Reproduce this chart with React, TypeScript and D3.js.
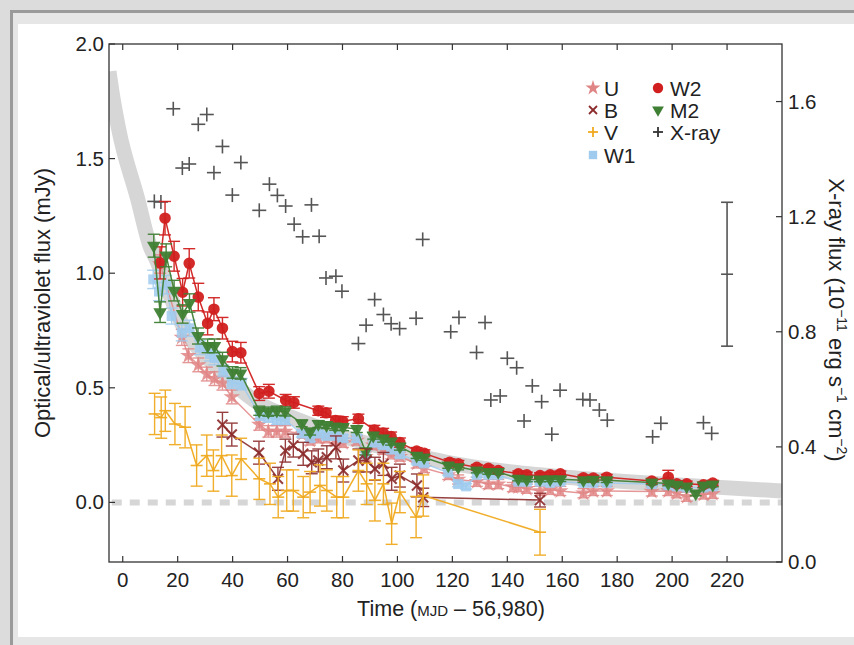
import React from 'react';
import * as d3 from 'd3';

const W = 854;
const H = 645;

const xTicks = [0, 20, 40, 60, 80, 100, 120, 140, 160, 180, 200, 220];
const yLeftTicks = [0, 0.5, 1.0, 1.5, 2.0];
const yRightTicks = [0.0, 0.4, 0.8, 1.2, 1.6];

// Model band (centre line)
const bandT = [-5, -3.9, -1.5, 5.3, 10.2, 11.8, 21.5, 36, 48.5, 64.5, 81.5, 100, 118, 140, 161.6, 193, 240];
const bandV = [1.88, 1.79, 1.63, 1.33, 1.11, 1.07, 0.78, 0.57, 0.44, 0.357, 0.284, 0.225, 0.175, 0.135, 0.11, 0.083, 0.05];

// X-ray
const tX = [11.5, 13.9, 18.4, 21.7, 24.2, 27.5, 30.6, 33.2, 36.3, 39.9, 43.0, 49.7, 53.4, 56.3, 59.3, 62.4, 65.5, 68.7, 71.5, 74.0, 77.6, 79.8, 85.8, 88.6, 91.7, 94.9, 97.7, 100.8, 106.8, 109.2, 119.4, 122.4, 128.8, 131.9, 134.0, 137.4, 140.0, 143.4, 146.1, 149.1, 152.5, 156.2, 159.2, 167.5, 170.1, 173.5, 176.4, 192.9, 195.9, 211.4, 214.4];
const vX = [1.253, 1.251, 1.575, 1.369, 1.383, 1.521, 1.555, 1.353, 1.444, 1.275, 1.388, 1.222, 1.313, 1.274, 1.237, 1.174, 1.130, 1.241, 1.132, 0.987, 0.993, 0.941, 0.759, 0.823, 0.912, 0.860, 0.828, 0.811, 0.847, 1.121, 0.800, 0.850, 0.728, 0.832, 0.563, 0.577, 0.708, 0.675, 0.490, 0.612, 0.557, 0.444, 0.597, 0.565, 0.563, 0.528, 0.493, 0.435, 0.482, 0.484, 0.447];
const xErrT = [220];
const xErrV = [1.0];
const xErrE = [0.25];

// W2
const tW2 = [13.6, 15.4, 18.7, 21.8, 24.2, 27.5, 30.9, 33.2, 36.3, 39.9, 43.0, 49.7, 53.2, 59.3, 62.3, 71.2, 74.0, 77.5, 80.1, 85.8, 91.6, 94.8, 97.7, 100.9, 107.0, 109.8, 119.0, 122.2, 128.9, 133.1, 136.7, 144.0, 147.1, 151.9, 155.6, 159.3, 167.7, 171.3, 176.2, 192.6, 198.6, 201.7, 205.3, 211.4, 214.8];
const vW2 = [1.045, 1.240, 1.074, 0.917, 1.043, 0.896, 0.781, 0.843, 0.760, 0.658, 0.653, 0.475, 0.485, 0.446, 0.436, 0.400, 0.391, 0.357, 0.354, 0.365, 0.316, 0.303, 0.287, 0.261, 0.224, 0.214, 0.175, 0.168, 0.153, 0.149, 0.139, 0.125, 0.120, 0.117, 0.120, 0.125, 0.107, 0.106, 0.110, 0.093, 0.110, 0.081, 0.081, 0.077, 0.084];
const eW2 = [0.07, 0.073, 0.065, 0.06, 0.064, 0.06, 0.05, 0.05, 0.047, 0.045, 0.045, 0.03, 0.03, 0.025, 0.025, 0.02, 0.02, 0.02, 0.02, 0.02, 0.02, 0.02, 0.02, 0.02, 0.015, 0.015, 0.015, 0.015, 0.012, 0.012, 0.012, 0.012, 0.012, 0.012, 0.012, 0.012, 0.012, 0.012, 0.012, 0.012, 0.03, 0.012, 0.012, 0.012, 0.012];

// M2
const tM2 = [11.3, 13.6, 15.8, 18.7, 21.8, 24.3, 27.4, 30.9, 33.4, 36.3, 40.0, 42.9, 49.7, 53.0, 56.1, 59.1, 65.2, 68.2, 71.2, 74.2, 77.3, 80.2, 85.2, 88.4, 91.2, 94.8, 97.7, 100.9, 107.0, 109.7, 118.5, 122.1, 128.9, 133.1, 136.7, 144.0, 147.1, 151.9, 155.6, 159.3, 167.7, 171.3, 176.2, 192.6, 198.6, 201.7, 205.3, 208.6, 211.4, 214.8];
const vM2 = [1.120, 0.830, 1.078, 0.924, 0.822, 0.870, 0.726, 0.683, 0.683, 0.625, 0.567, 0.563, 0.400, 0.396, 0.400, 0.397, 0.345, 0.309, 0.342, 0.337, 0.330, 0.328, 0.320, 0.222, 0.291, 0.278, 0.265, 0.243, 0.204, 0.196, 0.161, 0.154, 0.139, 0.133, 0.133, 0.104, 0.100, 0.100, 0.101, 0.101, 0.097, 0.099, 0.097, 0.087, 0.083, 0.077, 0.070, 0.039, 0.074, 0.078];
const eM2 = [0.05, 0.045, 0.05, 0.045, 0.04, 0.04, 0.035, 0.03, 0.03, 0.03, 0.025, 0.025, 0.02, 0.02, 0.02, 0.02, 0.015, 0.015, 0.015, 0.015, 0.015, 0.015, 0.015, 0.015, 0.015, 0.015, 0.015, 0.015, 0.012, 0.012, 0.012, 0.012, 0.01, 0.01, 0.01, 0.01, 0.01, 0.01, 0.01, 0.01, 0.01, 0.01, 0.01, 0.01, 0.01, 0.01, 0.01, 0.01, 0.01, 0.01];

// W1
const tW1 = [11.1, 13.2, 15.8, 17.8, 21.5, 24.3, 28.1, 31.8, 33.4, 36.6, 39.7, 43.3, 50.0, 53.0, 56.1, 59.1, 65.2, 68.2, 71.2, 74.2, 77.3, 80.2, 85.2, 88.4, 91.2, 94.8, 97.7, 100.9, 107.0, 109.7, 118.5, 122.1, 125.0, 128.9, 133.1, 136.7, 144.0, 147.1, 151.9, 155.6, 159.3, 167.7, 171.3, 176.2, 192.6, 198.6, 201.7, 205.3, 211.4, 214.8];
const vW1 = [0.973, 0.92, 0.95, 0.813, 0.74, 0.76, 0.675, 0.647, 0.63, 0.574, 0.523, 0.516, 0.378, 0.37, 0.36, 0.36, 0.30, 0.28, 0.30, 0.29, 0.29, 0.28, 0.28, 0.21, 0.26, 0.25, 0.23, 0.21, 0.18, 0.17, 0.13, 0.08, 0.07, 0.12, 0.12, 0.12, 0.09, 0.09, 0.09, 0.085, 0.09, 0.085, 0.085, 0.085, 0.08, 0.075, 0.07, 0.065, 0.065, 0.07];
const eW1 = [0.04, 0.04, 0.04, 0.035, 0.035, 0.035, 0.03, 0.03, 0.03, 0.025, 0.025, 0.025, 0.02, 0.02, 0.02, 0.02, 0.015, 0.015, 0.015, 0.015, 0.015, 0.015, 0.015, 0.015, 0.015, 0.015, 0.015, 0.015, 0.012, 0.012, 0.012, 0.012, 0.012, 0.01, 0.01, 0.01, 0.01, 0.01, 0.01, 0.01, 0.01, 0.01, 0.01, 0.01, 0.01, 0.01, 0.01, 0.01, 0.01, 0.01];

// U
const tU = [13.6, 21.5, 23.9, 27.5, 30.6, 33.4, 36.3, 39.7, 49.7, 53.0, 56.1, 59.1, 65.7, 68.2, 71.2, 74.2, 77.3, 80.2, 85.2, 88.4, 91.2, 94.8, 97.7, 100.9, 107.0, 109.7, 118.5, 122.1, 128.9, 133.1, 136.7, 142.0, 144.0, 147.1, 151.9, 155.6, 159.3, 167.7, 171.3, 176.2, 192.6, 198.6, 201.7, 205.3, 211.4, 214.8];
const vU = [1.04, 0.72, 0.64, 0.60, 0.56, 0.54, 0.52, 0.46, 0.34, 0.31, 0.31, 0.31, 0.30, 0.27, 0.28, 0.28, 0.27, 0.26, 0.27, 0.20, 0.25, 0.23, 0.21, 0.20, 0.17, 0.15, 0.12, 0.10, 0.09, 0.08, 0.08, 0.067, 0.067, 0.06, 0.05, 0.055, 0.05, 0.04, 0.05, 0.05, 0.048, 0.05, 0.04, 0.025, 0.035, 0.038];
const eU = [0.04, 0.035, 0.03, 0.03, 0.03, 0.03, 0.03, 0.03, 0.025, 0.025, 0.025, 0.025, 0.02, 0.02, 0.02, 0.02, 0.02, 0.02, 0.02, 0.02, 0.02, 0.02, 0.02, 0.02, 0.02, 0.02, 0.02, 0.02, 0.02, 0.02, 0.02, 0.02, 0.02, 0.02, 0.02, 0.02, 0.02, 0.02, 0.02, 0.02, 0.02, 0.02, 0.02, 0.02, 0.02, 0.02];

// B
const tB = [36.3, 39.7, 49.6, 56.5, 59.2, 62.1, 65.7, 68.8, 71.2, 74.3, 77.6, 80.3, 85.8, 88.8, 91.8, 94.9, 97.9, 100.9, 107.1, 109.4, 151.9];
const vB = [0.339, 0.296, 0.217, 0.103, 0.226, 0.248, 0.212, 0.175, 0.183, 0.197, 0.24, 0.139, 0.183, 0.183, 0.147, 0.168, 0.103, 0.117, 0.074, 0.022, 0.01];
const eB = [0.054, 0.05, 0.05, 0.05, 0.05, 0.05, 0.05, 0.05, 0.05, 0.05, 0.05, 0.05, 0.05, 0.05, 0.05, 0.05, 0.05, 0.05, 0.05, 0.04, 0.03];

// V
const tV = [11.6, 14.0, 15.5, 19.0, 22.7, 26.9, 30.6, 33.0, 36.0, 39.7, 43.1, 49.7, 53.6, 56.6, 59.7, 62.1, 65.7, 68.2, 71.8, 74.3, 77.9, 80.3, 85.8, 88.8, 91.8, 94.9, 97.9, 100.9, 106.8, 109.4, 151.9];
const vV = [0.386, 0.37, 0.40, 0.342, 0.328, 0.161, 0.204, 0.139, 0.204, 0.117, 0.19, 0.103, 0.081, 0.023, 0.052, 0.052, 0.023, 0.045, 0.074, 0.052, 0.023, 0.023, 0.139, 0.081, 0.009, 0.081, -0.093, 0.045, -0.064, 0.03, -0.13];
const eV = [0.09, 0.09, 0.09, 0.09, 0.09, 0.09, 0.09, 0.09, 0.09, 0.09, 0.09, 0.09, 0.09, 0.09, 0.09, 0.09, 0.09, 0.09, 0.09, 0.09, 0.09, 0.09, 0.09, 0.09, 0.09, 0.09, 0.09, 0.09, 0.09, 0.09, 0.1];

const FONT = "'Liberation Sans', Arial, Helvetica, sans-serif";

const C_W2 = '#d11f1f';
const C_M2 = '#3f7f34';
const C_W1 = '#9fcbee';
const C_U = '#e08585';
const C_B = '#8c2b2b';
const C_V = '#f0aa20';
const C_X = '#555555';

export default function App() {
  const x = d3.scaleLinear().domain([-5, 240]).range([109, 782]);
  const yL = d3.scaleLinear().domain([-0.26, 2.0]).range([562, 44]);
  const yR = d3.scaleLinear().domain([0, 1.8]).range([562, 44]);

  const lineGen = d3.line<[number, number]>().x(d => x(d[0])).y(d => yL(d[1]));
  const bandLine = d3.line<[number, number]>().x(d => x(d[0])).y(d => yL(d[1])).curve(d3.curveMonotoneX);

  const starPath = d3.symbol().type(d3.symbolStar).size(85)() as string;
  const triPath = d3.symbol().type(d3.symbolTriangle).size(80)() as string;
  const sqPath = d3.symbol().type(d3.symbolSquare).size(100)() as string;
  const circPath = d3.symbol().type(d3.symbolCircle).size(105)() as string;
  const starLeg = d3.symbol().type(d3.symbolStar).size(70)() as string;
  const triLeg = d3.symbol().type(d3.symbolTriangle).size(60)() as string;
  const sqLeg = d3.symbol().type(d3.symbolSquare).size(70)() as string;
  const circLeg = d3.symbol().type(d3.symbolCircle).size(85)() as string;

  const zip = (t: number[], v: number[]) => t.map((ti, i) => [ti, v[i]] as [number, number]);

  const errBars = (t: number[], v: number[], e: number[], color: string, op = 1, cap = 6, sw = 1.4) =>
    t.map((ti, i) => {
      const cx = x(ti);
      const y1 = yL(v[i] + e[i]);
      const y2 = yL(v[i] - e[i]);
      return (
        <g key={'e' + i} stroke={color} strokeWidth={sw} opacity={op}>
          <line x1={cx} x2={cx} y1={y1} y2={y2} />
          <line x1={cx - cap} x2={cx + cap} y1={y1} y2={y1} />
          <line x1={cx - cap} x2={cx + cap} y1={y2} y2={y2} />
        </g>
      );
    });

  const markers = (t: number[], v: number[], path: string, color: string, op = 1, rot = 0) =>
    t.map((ti, i) => (
      <path key={'m' + i} d={path} fill={color} opacity={op}
        transform={`translate(${x(ti)},${yL(v[i])}) rotate(${rot})`} />
    ));

  const series = (t: number[], v: number[], e: number[], color: string, op: number) => (
    <>
      {errBars(t, v, e, color, op)}
      <path d={lineGen(zip(t, v)) || ''} fill="none" stroke={color} strokeWidth={1.5} opacity={op} />
    </>
  );

  const plotL = 109, plotR = 782, plotT = 44, plotB = 562;

  return (
    <svg width={W} height={H} viewBox={`0 0 ${W} ${H}`}
      style={{ position: 'fixed', left: 0, top: 0, display: 'block' }}
      fontFamily={FONT}>
      <defs>
        <clipPath id="plotclip">
          <rect x={plotL} y={plotT} width={plotR - plotL} height={plotB - plotT} />
        </clipPath>
      </defs>
      {/* background frame */}
      <rect x={0} y={0} width={W} height={H} fill="#dcdcdc" />
      <rect x={11.5} y={11.5} width={W} height={H} fill="#e6e6e6" stroke="#9a9a9a" strokeWidth={3} />
      <rect x={18} y={24} width={W - 18} height={613} fill="#ffffff" />

      {/* model band */}
      <g clipPath="url(#plotclip)">
        <path d={bandLine(zip(bandT, bandV)) || ''} fill="none" stroke="#d6d6d6" strokeWidth={15} />
        <line x1={x(-4)} x2={plotR} y1={yL(0)} y2={yL(0)} stroke="#d6d6d6" strokeWidth={6} strokeDasharray="10 8" />
      </g>

      {/* X-ray */}
      <g stroke={C_X} strokeWidth={1.6}>
        {tX.map((t, i) => {
          const cx = x(t), cy = yR(vX[i]);
          return (
            <g key={'x' + i}>
              <line x1={cx - 7} x2={cx + 7} y1={cy} y2={cy} />
              <line x1={cx} x2={cx} y1={cy - 7} y2={cy + 7} />
            </g>
          );
        })}
        {xErrT.map((t, i) => {
          const cx = x(t);
          const y1 = yR(xErrV[i] + xErrE[i]);
          const y2 = yR(xErrV[i] - xErrE[i]);
          const cy = yR(xErrV[i]);
          return (
            <g key={'xe' + i}>
              <line x1={cx} x2={cx} y1={y1} y2={y2} />
              <line x1={cx - 6} x2={cx + 6} y1={y1} y2={y1} />
              <line x1={cx - 6} x2={cx + 6} y1={y2} y2={y2} />
              <line x1={cx - 6} x2={cx + 6} y1={cy} y2={cy} />
            </g>
          );
        })}
      </g>

      {/* U */}
      {series(tU, vU, eU, C_U, 0.85)}
      {markers(tU, vU, starPath, C_U, 0.85)}
      {/* W1 */}
      {series(tW1, vW1, eW1, C_W1, 0.85)}
      {markers(tW1, vW1, sqPath, C_W1, 0.85)}
      {/* W2 */}
      {series(tW2, vW2, eW2, C_W2, 0.95)}
      {markers(tW2, vW2, circPath, C_W2, 0.95)}
      {/* M2 */}
      {series(tM2, vM2, eM2, C_M2, 0.95)}
      {markers(tM2, vM2, triPath, C_M2, 0.95, 180)}
      {/* B */}
      {series(tB, vB, eB, C_B, 0.9)}
      <g stroke={C_B} strokeWidth={2} opacity={0.9}>
        {tB.map((t, i) => {
          const cx = x(t), cy = yL(vB[i]);
          return (
            <g key={'bx' + i}>
              <line x1={cx - 5} x2={cx + 5} y1={cy - 5} y2={cy + 5} />
              <line x1={cx - 5} x2={cx + 5} y1={cy + 5} y2={cy - 5} />
            </g>
          );
        })}
      </g>
      {/* V */}
      {series(tV, vV, eV, C_V, 0.95)}
      <g stroke={C_V} strokeWidth={1.6} opacity={0.95}>
        {tV.map((t, i) => {
          const cx = x(t), cy = yL(vV[i]);
          return <line key={'vp' + i} x1={cx - 6} x2={cx + 6} y1={cy} y2={cy} />;
        })}
      </g>

      {/* axes frame */}
      <rect x={plotL} y={plotT} width={plotR - plotL} height={plotB - plotT} fill="none" stroke="#333" strokeWidth={1.3} />
      <g stroke="#333" strokeWidth={1.2}>
        {xTicks.map(t => (
          <g key={'xt' + t}>
            <line x1={x(t)} x2={x(t)} y1={plotB} y2={plotB - 6} />
            <line x1={x(t)} x2={x(t)} y1={plotT} y2={plotT + 6} />
          </g>
        ))}
        {yLeftTicks.map(v => (
          <line key={'yl' + v} x1={plotL} x2={plotL + 6} y1={yL(v)} y2={yL(v)} />
        ))}
        {yRightTicks.map(v => (
          <line key={'yr' + v} x1={plotR} x2={plotR - 6} y1={yR(v)} y2={yR(v)} />
        ))}
      </g>
      <g fontSize={20.5} fill="#222">
        {xTicks.map(t => (
          <text key={'xl' + t} x={x(t)} y={587} textAnchor="middle">{t}</text>
        ))}
        {yLeftTicks.map(v => (
          <text key={'yll' + v} x={104} y={yL(v) + 7} textAnchor="end">{v.toFixed(1)}</text>
        ))}
        {yRightTicks.map(v => (
          <text key={'yrl' + v} x={788} y={yR(v) + 7} textAnchor="start">{v.toFixed(1)}</text>
        ))}
      </g>

      {/* axis titles */}
      <text x={451} y={616} textAnchor="middle" fontSize={21.5} fill="#222">
        Time (<tspan fontSize={15}>MJD</tspan> – 56,980)
      </text>
      <text transform="translate(50,303) rotate(-90)" textAnchor="middle" fontSize={22} fill="#222">
        Optical/ultraviolet flux (mJy)
      </text>
      <text transform="translate(829,320) rotate(90)" textAnchor="middle" fontSize={22} fill="#222">
        X-ray flux (10<tspan dy={-8} fontSize={14}>−11</tspan><tspan dy={8}> erg s</tspan><tspan dy={-8} fontSize={14}>−1</tspan><tspan dy={8}> cm</tspan><tspan dy={-8} fontSize={14}>−2</tspan><tspan dy={8}>)</tspan>
      </text>

      {/* legend */}
      <g fontSize={21} fill="#222">
        <path d={starLeg} fill={C_U} transform="translate(593,88)" />
        <text x={604} y={95.5}>U</text>
        <g stroke={C_B} strokeWidth={1.8}>
          <line x1={589} x2={597} y1={106} y2={114} />
          <line x1={589} x2={597} y1={114} y2={106} />
        </g>
        <text x={604} y={117.5}>B</text>
        <g stroke={C_V} strokeWidth={1.8}>
          <line x1={588} x2={598} y1={132} y2={132} />
          <line x1={593} x2={593} y1={127} y2={137} />
        </g>
        <text x={604} y={139.5}>V</text>
        <path d={sqLeg} fill={C_W1} transform="translate(593,155)" />
        <text x={604} y={162.5}>W1</text>

        <path d={circLeg} fill={C_W2} transform="translate(658,88)" />
        <text x={670} y={95.5}>W2</text>
        <path d={triLeg} fill={C_M2} transform="translate(658,110) rotate(180)" />
        <text x={670} y={117.5}>M2</text>
        <g stroke="#333" strokeWidth={1.8}>
          <line x1={653} x2={663} y1={132} y2={132} />
          <line x1={658} x2={658} y1={127} y2={137} />
        </g>
        <text x={670} y={139.5}>X-ray</text>
      </g>
    </svg>
  );
}
